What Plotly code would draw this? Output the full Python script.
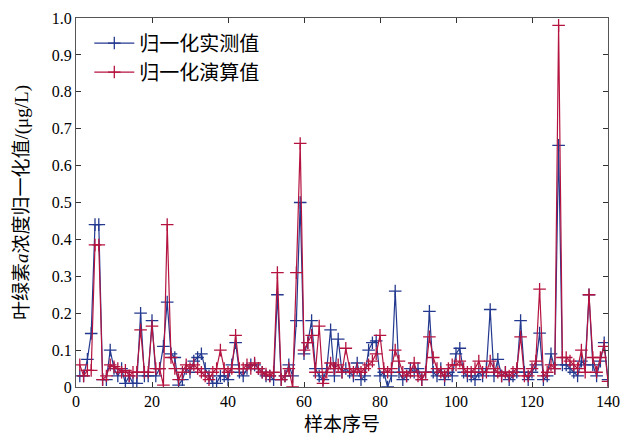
import plotly.graph_objects as go

x_index = list(range(1, 141))

measured = [
    0.03, 0.03, 0.075, 0.145, 0.44, 0.44, 0.02, 0.02, 0.10, 0.05,
    0.03, 0.05, 0.01, 0.03, 0.01, 0.01, 0.20, 0.03, 0.03, 0.18,
    0.03, 0.05, 0.11, 0.23, 0.09, 0.08, 0.005, 0.02, 0.05, 0.04,
    0.07, 0.08, 0.09, 0.05, 0.03, 0.01, 0.01, 0.03, 0.03, 0.02,
    0.06, 0.12, 0.04, 0.03, 0.05, 0.06, 0.06, 0.05, 0.04, 0.03,
    0.03, 0.02, 0.25, 0.02, 0.03, 0.06, 0.03, 0.18, 0.50, 0.09,
    0.12, 0.18, 0.05, 0.03, 0.02, 0.05, 0.155, 0.03, 0.13, 0.04,
    0.05, 0.04, 0.03, 0.065, 0.02, 0.03, 0.10, 0.12, 0.125, 0.03,
    0.04, 0.0, 0.03, 0.26, 0.04, 0.02, 0.03, 0.05, 0.04, 0.05,
    0.02, 0.04, 0.205, 0.04, 0.03, 0.05, 0.02, 0.04, 0.03, 0.09,
    0.105, 0.04, 0.03, 0.03, 0.02, 0.04, 0.03, 0.05, 0.21, 0.03,
    0.075, 0.03, 0.04, 0.02, 0.03, 0.04, 0.18, 0.04, 0.02, 0.04,
    0.06, 0.146, 0.02, 0.03, 0.09, 0.05, 0.655, 0.06, 0.06, 0.05,
    0.04, 0.03, 0.07, 0.06, 0.25, 0.06, 0.03, 0.07, 0.12, 0.02,
]

computed = [
    0.06, 0.03, 0.045, 0.045, 0.385, 0.385, 0.02, 0.03, 0.06, 0.055,
    0.05, 0.04, 0.045, 0.03, 0.04, 0.04, 0.155, 0.04, 0.04, 0.165,
    0.05, 0.05, 0.005, 0.44, 0.08, 0.05, 0.02, 0.04, 0.06, 0.05,
    0.06, 0.05, 0.04, 0.03, 0.02, 0.04, 0.05, 0.10, 0.05, 0.04,
    0.05, 0.14, 0.05, 0.05, 0.06, 0.05, 0.065, 0.05, 0.04, 0.035,
    0.03, 0.04, 0.31, 0.02, 0.03, 0.05, 0.0, 0.31, 0.66, 0.10,
    0.12, 0.14, 0.04, 0.165, 0.01, 0.04, 0.065, 0.05, 0.06, 0.04,
    0.105, 0.05, 0.04, 0.05, 0.04, 0.05, 0.06, 0.07, 0.09, 0.14,
    0.05, 0.04, 0.05, 0.10, 0.07, 0.04, 0.03, 0.04, 0.065, 0.03,
    0.02, 0.04, 0.136, 0.08, 0.05, 0.04, 0.03, 0.05, 0.06, 0.06,
    0.07, 0.05, 0.04, 0.04, 0.05, 0.07, 0.04, 0.04, 0.07, 0.05,
    0.04, 0.03, 0.04, 0.03, 0.04, 0.05, 0.136, 0.03, 0.03, 0.05,
    0.07, 0.265, 0.03, 0.04, 0.06, 0.05, 0.98, 0.08, 0.08, 0.07,
    0.06, 0.05, 0.10, 0.04, 0.25, 0.08, 0.04, 0.08, 0.11, 0.015,
]

y_ticks = [0, 0.1, 0.2, 0.3, 0.4, 0.5, 0.6, 0.7, 0.8, 0.9, 1.0]
y_tick_text = ["0", "0.1", "0.2", "0.3", "0.4", "0.5", "0.6", "0.7", "0.8", "0.9", "1.0"]
x_ticks = [0, 20, 40, 60, 80, 100, 120, 140]

FONT = "Liberation Serif, Noto Sans CJK SC, serif"
BLUE = "#23398f"
RED = "#b5133f"

fig = go.Figure()
fig.add_trace(go.Scatter(
    x=x_index, y=measured, mode="lines+markers", name="归一化实测值",
    line=dict(color=BLUE, width=1.2),
    marker=dict(symbol="cross-thin", size=9, line=dict(color=BLUE, width=1.3)),
))
fig.add_trace(go.Scatter(
    x=x_index, y=computed, mode="lines+markers", name="归一化演算值",
    line=dict(color=RED, width=1.2),
    marker=dict(symbol="cross-thin", size=9, line=dict(color=RED, width=1.3)),
))

axis_common = dict(
    showline=True, linecolor="#555555", linewidth=1, mirror="allticks",
    ticks="inside", ticklen=5, tickcolor="#333333", showgrid=False, zeroline=False,
    tickfont=dict(family=FONT, size=16, color="black"), automargin=False,
)

fig.update_layout(
    width=627, height=439,
    margin=dict(l=76, r=19, t=18, b=52),
    paper_bgcolor="white", plot_bgcolor="white",
    font=dict(family=FONT, color="black"),
    showlegend=True,
    legend=dict(x=0.025, y=0.985, xanchor="left", yanchor="top",
                bgcolor="rgba(0,0,0,0)", borderwidth=0,
                font=dict(family=FONT, size=20, color="black"),
                tracegroupgap=0, itemwidth=40),
    xaxis=dict(range=[0, 140], tickvals=x_ticks,
               title=dict(text="样本序号", font=dict(family=FONT, size=19), standoff=8),
               **axis_common),
    yaxis=dict(range=[0, 1.0], tickvals=y_ticks, ticktext=y_tick_text,
               title=dict(text="叶绿素<i>a</i>浓度归一化值/(μg/L)",
                          font=dict(family=FONT, size=19), standoff=18),
               **axis_common),
)

fig.write_html("out.html", config={"displayModeBar": False},
               post_script="document.body.style.margin='0';")
